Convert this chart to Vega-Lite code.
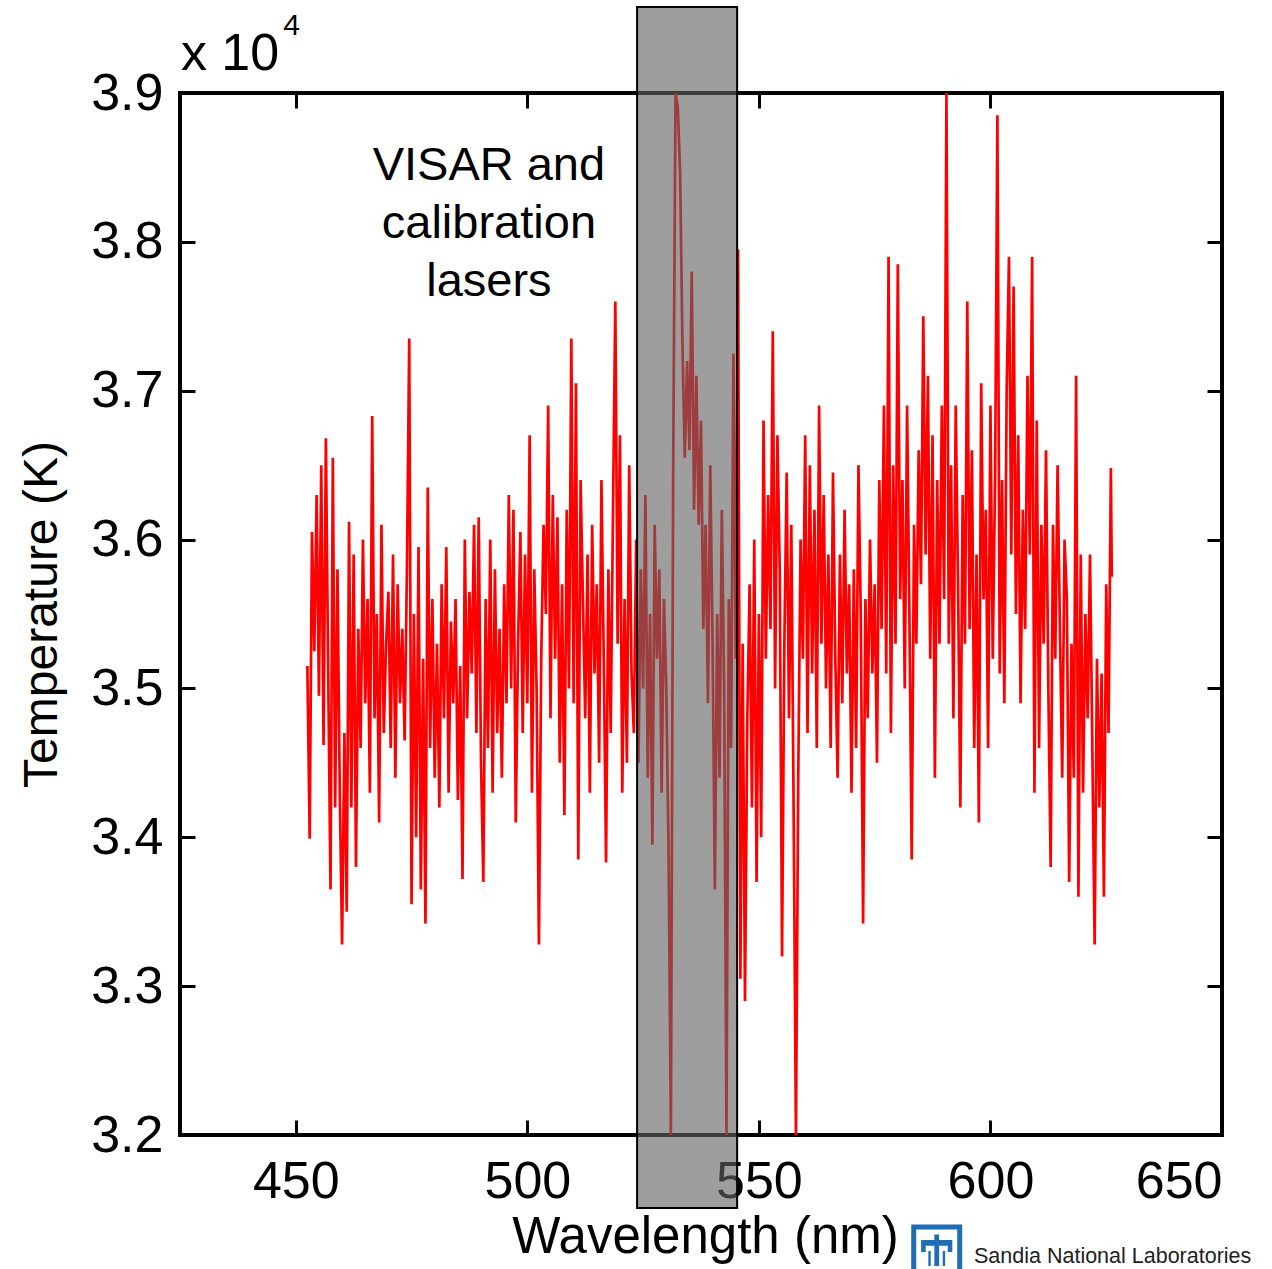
{
  "$schema": "https://vega.github.io/schema/vega-lite/v6.json",
  "width": 1042,
  "height": 1042,
  "autosize": {"type": "none"},
  "padding": {"left": 180, "top": 93, "right": 50, "bottom": 134},
  "background": "white",
  "config": {
    "view": {"stroke": "black", "strokeWidth": 4},
    "font": "Liberation Sans",
    "axis": {
      "domain": false,
      "grid": false,
      "tickColor": "black",
      "tickWidth": 3,
      "tickSize": -15,
      "labelColor": "black",
      "titleColor": "black",
      "labelFont": "Liberation Sans",
      "titleFont": "Liberation Sans",
      "titleFontWeight": "normal"
    }
  },
  "datasets": {
    "spectrum": [
      {"wl":452.5,"t":35150},{"wl":453,"t":33990},{"wl":453.5,"t":36050},{"wl":454,"t":35250},{"wl":454.5,"t":36300},{"wl":455,"t":34950},{"wl":455.5,"t":36500},{"wl":456,"t":34620},{"wl":456.5,"t":36680},{"wl":457,"t":35100},{"wl":457.5,"t":33650},{"wl":458,"t":36550},{"wl":458.5,"t":34200},{"wl":459,"t":35800},{"wl":459.5,"t":34300},{"wl":460,"t":33280},{"wl":460.5,"t":34700},{"wl":461,"t":33500},{"wl":461.5,"t":36120},{"wl":462,"t":34200},
      {"wl":462.5,"t":35900},{"wl":463,"t":33800},{"wl":463.5,"t":35400},{"wl":464,"t":34600},{"wl":464.5,"t":36000},{"wl":465,"t":34900},{"wl":465.5,"t":35600},{"wl":466,"t":34300},{"wl":466.5,"t":36830},{"wl":467,"t":34800},{"wl":467.5,"t":35500},{"wl":468,"t":34100},{"wl":468.5,"t":36100},{"wl":469,"t":34700},{"wl":469.5,"t":35300},{"wl":470,"t":35650},{"wl":470.5,"t":34600},{"wl":471,"t":35900},{"wl":471.5,"t":34400},{"wl":472,"t":35700},
      {"wl":472.5,"t":34900},{"wl":473,"t":35400},{"wl":473.5,"t":34650},{"wl":474,"t":35800},{"wl":474.5,"t":37350},{"wl":475,"t":33550},{"wl":475.5,"t":35500},{"wl":476,"t":34000},{"wl":476.5,"t":35950},{"wl":477,"t":33650},{"wl":477.5,"t":35200},{"wl":478,"t":33420},{"wl":478.5,"t":36350},{"wl":479,"t":34600},{"wl":479.5,"t":35600},{"wl":480,"t":34400},{"wl":480.5,"t":35300},{"wl":481,"t":34200},{"wl":481.5,"t":35700},{"wl":482,"t":34800},
      {"wl":482.5,"t":35950},{"wl":483,"t":34300},{"wl":483.5,"t":35450},{"wl":484,"t":34900},{"wl":484.5,"t":35600},{"wl":485,"t":34250},{"wl":485.5,"t":35150},{"wl":486,"t":33720},{"wl":486.5,"t":36000},{"wl":487,"t":34800},{"wl":487.5,"t":35650},{"wl":488,"t":35100},{"wl":488.5,"t":36100},{"wl":489,"t":34700},{"wl":489.5,"t":36150},{"wl":490,"t":34500},{"wl":490.5,"t":33700},{"wl":491,"t":35600},{"wl":491.5,"t":34600},{"wl":492,"t":36000},
      {"wl":492.5,"t":34300},{"wl":493,"t":35800},{"wl":493.5,"t":34700},{"wl":494,"t":35400},{"wl":494.5,"t":34400},{"wl":495,"t":35700},{"wl":495.5,"t":34900},{"wl":496,"t":36300},{"wl":496.5,"t":35000},{"wl":497,"t":36200},{"wl":497.5,"t":34100},{"wl":498,"t":35300},{"wl":498.5,"t":36050},{"wl":499,"t":34700},{"wl":499.5,"t":35900},{"wl":500,"t":34900},{"wl":500.5,"t":36700},{"wl":501,"t":34300},{"wl":501.5,"t":35800},{"wl":502,"t":35000},
      {"wl":502.5,"t":33280},{"wl":503,"t":35200},{"wl":503.5,"t":36100},{"wl":504,"t":35500},{"wl":504.5,"t":36900},{"wl":505,"t":34800},{"wl":505.5,"t":36300},{"wl":506,"t":35200},{"wl":506.5,"t":36150},{"wl":507,"t":34500},{"wl":507.5,"t":35700},{"wl":508,"t":34150},{"wl":508.5,"t":36200},{"wl":509,"t":35000},{"wl":509.5,"t":37350},{"wl":510,"t":34900},{"wl":510.5,"t":37050},{"wl":511,"t":33850},{"wl":511.5,"t":36400},{"wl":512,"t":35600},
      {"wl":512.5,"t":34800},{"wl":513,"t":35900},{"wl":513.5,"t":34300},{"wl":514,"t":36100},{"wl":514.5,"t":35100},{"wl":515,"t":35700},{"wl":515.5,"t":34500},{"wl":516,"t":36400},{"wl":516.5,"t":35200},{"wl":517,"t":33830},{"wl":517.5,"t":35800},{"wl":518,"t":34700},{"wl":518.5,"t":36200},{"wl":519,"t":37600},{"wl":519.5,"t":35300},{"wl":520,"t":36700},{"wl":520.5,"t":34300},{"wl":521,"t":35600},{"wl":521.5,"t":34500},{"wl":522,"t":36500},{"wl":522.5,"t":35100},{"wl":523,"t":34700},
      {"wl":523.5,"t":36000},{"wl":524,"t":34500},{"wl":524.5,"t":35800},{"wl":525,"t":35000},{"wl":525.5,"t":36300},{"wl":526,"t":34400},{"wl":526.5,"t":35500},{"wl":527,"t":33950},{"wl":527.5,"t":36100},{"wl":528,"t":35200},{"wl":528.5,"t":35800},{"wl":529,"t":34300},{"wl":529.5,"t":35600},{"wl":530,"t":35000},{"wl":530.5,"t":33900},{"wl":531,"t":32000},{"wl":531.5,"t":36500},{"wl":532,"t":39000},{"wl":532.5,"t":38900},{"wl":533,"t":38450},{"wl":533.5,"t":37300},{"wl":534,"t":36550},{"wl":534.5,"t":37200},{"wl":535,"t":36600},{"wl":535.5,"t":37800},{"wl":536,"t":36200},{"wl":536.5,"t":37100},{"wl":537,"t":36100},{"wl":537.5,"t":36800},{"wl":538,"t":35400},{"wl":538.5,"t":36100},{"wl":539,"t":34900},{"wl":539.5,"t":36500},{"wl":540,"t":35300},{"wl":540.5,"t":33650},{"wl":541,"t":35500},{"wl":541.5,"t":34400},{"wl":542,"t":36200},{"wl":542.5,"t":35000},{"wl":543,"t":32000},{"wl":543.5,"t":35600},{"wl":544,"t":34600},{"wl":544.5,"t":37250},{"wl":545,"t":35200},{"wl":545.5,"t":37950},
      {"wl":546,"t":33050},{"wl":546.5,"t":35300},{"wl":547,"t":32900},{"wl":547.5,"t":34800},{"wl":548,"t":35700},{"wl":548.5,"t":34200},{"wl":549,"t":36000},{"wl":549.5,"t":33700},{"wl":550,"t":35500},{"wl":550.5,"t":34000},{"wl":551,"t":36800},{"wl":551.5,"t":35200},{"wl":552,"t":36300},{"wl":552.5,"t":35400},{"wl":553,"t":37400},{"wl":553.5,"t":35000},{"wl":554,"t":36700},{"wl":554.5,"t":35800},{"wl":555,"t":33200},{"wl":555.5,"t":35300},{"wl":556,"t":36450},
      {"wl":556.5,"t":34800},{"wl":557,"t":36100},{"wl":557.5,"t":34200},{"wl":558,"t":32000},{"wl":558.5,"t":34400},{"wl":559,"t":36000},{"wl":559.5,"t":35200},{"wl":560,"t":36700},{"wl":560.5,"t":34700},{"wl":561,"t":36500},{"wl":561.5,"t":35100},{"wl":562,"t":36200},{"wl":562.5,"t":34600},{"wl":563,"t":36900},{"wl":563.5,"t":35300},{"wl":564,"t":36300},{"wl":564.5,"t":35000},{"wl":565,"t":35900},{"wl":565.5,"t":34600},{"wl":566,"t":36450},
      {"wl":566.5,"t":35200},{"wl":567,"t":34400},{"wl":567.5,"t":35900},{"wl":568,"t":34900},{"wl":568.5,"t":36200},{"wl":569,"t":35100},{"wl":569.5,"t":35700},{"wl":570,"t":34300},{"wl":570.5,"t":35800},{"wl":571,"t":34600},{"wl":571.5,"t":36500},{"wl":572,"t":35500},{"wl":572.5,"t":33420},{"wl":573,"t":35600},{"wl":573.5,"t":34800},{"wl":574,"t":36000},{"wl":574.5,"t":35100},{"wl":575,"t":35700},{"wl":575.5,"t":34500},{"wl":576,"t":36400},
      {"wl":576.5,"t":35400},{"wl":577,"t":36900},{"wl":577.5,"t":35100},{"wl":578,"t":37900},{"wl":578.5,"t":34700},{"wl":579,"t":36500},{"wl":579.5,"t":35300},{"wl":580,"t":37850},{"wl":580.5,"t":35600},{"wl":581,"t":36400},{"wl":581.5,"t":35000},{"wl":582,"t":36900},{"wl":582.5,"t":35500},{"wl":583,"t":33850},{"wl":583.5,"t":36100},{"wl":584,"t":35300},{"wl":584.5,"t":36600},{"wl":585,"t":35700},{"wl":585.5,"t":37500},{"wl":586,"t":35900},
      {"wl":586.5,"t":37100},{"wl":587,"t":35200},{"wl":587.5,"t":36700},{"wl":588,"t":34400},{"wl":588.5,"t":36400},{"wl":589,"t":35300},{"wl":589.5,"t":36900},{"wl":590,"t":35600},{"wl":590.5,"t":39000},{"wl":591,"t":35300},{"wl":591.5,"t":36500},{"wl":592,"t":34800},{"wl":592.5,"t":36900},{"wl":593,"t":35700},{"wl":593.5,"t":34200},{"wl":594,"t":36300},{"wl":594.5,"t":35300},{"wl":595,"t":37600},{"wl":595.5,"t":35400},{"wl":596,"t":36600},
      {"wl":596.5,"t":34600},{"wl":597,"t":35900},{"wl":597.5,"t":34100},{"wl":598,"t":37050},{"wl":598.5,"t":35600},{"wl":599,"t":36200},{"wl":599.5,"t":34600},{"wl":600,"t":36900},{"wl":600.5,"t":35200},{"wl":601,"t":36400},{"wl":601.5,"t":38850},{"wl":602,"t":35100},{"wl":602.5,"t":36400},{"wl":603,"t":34900},{"wl":603.5,"t":37000},{"wl":604,"t":37900},{"wl":604.5,"t":35900},{"wl":605,"t":37700},{"wl":605.5,"t":35500},{"wl":606,"t":36700},
      {"wl":606.5,"t":34900},{"wl":607,"t":36200},{"wl":607.5,"t":35400},{"wl":608,"t":37100},{"wl":608.5,"t":35900},{"wl":609,"t":37900},{"wl":609.5,"t":34300},{"wl":610,"t":36800},{"wl":610.5,"t":34600},{"wl":611,"t":36100},{"wl":611.5,"t":35300},{"wl":612,"t":36600},{"wl":612.5,"t":35000},{"wl":613,"t":33800},{"wl":613.5,"t":36100},{"wl":614,"t":35200},{"wl":614.5,"t":36500},{"wl":615,"t":35400},{"wl":615.5,"t":34400},{"wl":616,"t":36000},
      {"wl":616.5,"t":35600},{"wl":617,"t":33700},{"wl":617.5,"t":35300},{"wl":618,"t":34400},{"wl":618.5,"t":37100},{"wl":619,"t":33600},{"wl":619.5,"t":35900},{"wl":620,"t":34300},{"wl":620.5,"t":35500},{"wl":621,"t":34800},{"wl":621.5,"t":35900},{"wl":622,"t":34600},{"wl":622.5,"t":33280},{"wl":623,"t":35200},{"wl":623.5,"t":34200},{"wl":624,"t":35100},{"wl":624.5,"t":33600},{"wl":625,"t":35700},{"wl":625.5,"t":34700},{"wl":626,"t":36480},{"wl":626.2,"t":35750}
    ],
    "lasers": [
      {"from": 523.7, "to": 545.3}
    ]
  },
  "resolve": {"axis": {"x": "independent", "y": "independent"}},
  "layer": [
    {
      "data": {"name": "spectrum"},
      "mark": {"type": "line", "color": "#ff0000", "strokeWidth": 2.7, "clip": true},
      "encoding": {
        "x": {
          "field": "wl", "type": "quantitative",
          "scale": {"domain": [425, 650], "nice": false, "zero": false},
          "axis": {
            "orient": "bottom", "values": [450, 500, 550, 600, 650],
            "labelFontSize": 52, "labelPadding": 36,
            "title": "Wavelength (nm)", "titleFontSize": 51,
            "titleX": 525, "titleY": 117, "titleBaseline": "alphabetic", "titleAlign": "center"
          }
        },
        "y": {
          "field": "t", "type": "quantitative",
          "scale": {"domain": [32000, 39000], "nice": false, "zero": false},
          "axis": {
            "orient": "left", "values": [32000, 33000, 34000, 35000, 36000, 37000, 38000, 39000],
            "labelExpr": "format(datum.value / 10000, '.1f')",
            "labelFontSize": 52, "labelPadding": 32,
            "title": "Temperature (K)", "titleFontSize": 48, "titleAngle": -90,
            "titleX": -124, "titleY": 521, "titleBaseline": "alphabetic", "titleAlign": "center"
          }
        }
      }
    },
    {
      "data": {"name": "lasers"},
      "mark": {"type": "rect", "fill": "#626262", "fillOpacity": 0.62, "stroke": "black", "strokeWidth": 2, "clip": false},
      "encoding": {
        "x": {
          "field": "from", "type": "quantitative",
          "scale": {"domain": [425, 650], "nice": false, "zero": false},
          "axis": {"orient": "top", "values": [450, 500, 550, 600, 650], "labels": false, "title": null}
        },
        "x2": {"field": "to"},
        "y": {
          "datum": 39578, "type": "quantitative",
          "scale": {"domain": [32000, 39000], "nice": false, "zero": false},
          "axis": {"orient": "right", "values": [32000, 33000, 34000, 35000, 36000, 37000, 38000, 39000], "labels": false, "title": null}
        },
        "y2": {"datum": 31510}
      }
    },
    {
      "data": {"values": [{}]},
      "mark": {"type": "text", "text": ["VISAR and", "calibration", "lasers"], "fontSize": 47, "lineHeight": 58, "align": "center", "baseline": "alphabetic", "font": "Liberation Sans", "color": "black", "clip": false},
      "encoding": {
        "x": {"datum": 491.7, "type": "quantitative", "scale": {"domain": [425, 650], "nice": false, "zero": false}, "axis": null},
        "y": {"datum": 38416, "type": "quantitative", "scale": {"domain": [32000, 39000], "nice": false, "zero": false}, "axis": null}
      }
    },
    {
      "data": {"values": [{}]},
      "mark": {"type": "text", "text": "x 10", "fontSize": 52, "align": "left", "baseline": "alphabetic", "font": "Liberation Sans", "color": "black", "clip": false},
      "encoding": {
        "x": {"datum": 425.2, "type": "quantitative", "axis": null},
        "y": {"datum": 39155, "type": "quantitative", "axis": null}
      }
    },
    {
      "data": {"values": [{}]},
      "mark": {"type": "text", "text": "4", "fontSize": 30, "align": "left", "baseline": "alphabetic", "font": "Liberation Sans", "color": "black", "clip": false},
      "encoding": {
        "x": {"datum": 447.3, "type": "quantitative", "axis": null},
        "y": {"datum": 39390, "type": "quantitative", "axis": null}
      }
    },
    {
      "data": {"values": [{}]},
      "mark": {"type": "point", "shape": "square", "size": 2116, "filled": false, "stroke": "#1f6db4", "strokeWidth": 5, "opacity": 1, "clip": false},
      "encoding": {
        "x": {"datum": 588.4, "type": "quantitative", "axis": null},
        "y": {"datum": 31227, "type": "quantitative", "axis": null}
      }
    },
    {
      "data": {"values": [{}]},
      "mark": {"type": "point", "shape": "M-0.12,-0.78 L0.12,-0.78 L0.12,-0.5 L0.78,-0.5 L0.78,0.1 L0.55,0.1 L0.55,-0.22 L0.12,-0.22 L0.12,0.8 L-0.12,0.8 L-0.12,-0.22 L-0.55,-0.22 L-0.55,0.1 L-0.78,0.1 L-0.78,-0.5 L-0.12,-0.5 Z M0.3,0.05 L0.42,0.05 L0.42,0.8 L0.3,0.8 Z M-0.42,0.05 L-0.3,0.05 L-0.3,0.8 L-0.42,0.8 Z", "size": 1600, "filled": true, "fill": "#1f6db4", "strokeWidth": 0, "opacity": 1, "clip": false},
      "encoding": {
        "x": {"datum": 588.4, "type": "quantitative", "axis": null},
        "y": {"datum": 31227, "type": "quantitative", "axis": null}
      }
    },
    {
      "data": {"values": [{}]},
      "mark": {"type": "text", "text": "Sandia National Laboratories", "fontSize": 21.5, "align": "left", "baseline": "alphabetic", "font": "Liberation Sans", "color": "#1e1e1e", "clip": false},
      "encoding": {
        "x": {"datum": 596.45, "type": "quantitative", "axis": null},
        "y": {"datum": 31140, "type": "quantitative", "axis": null}
      }
    }
  ]
}
